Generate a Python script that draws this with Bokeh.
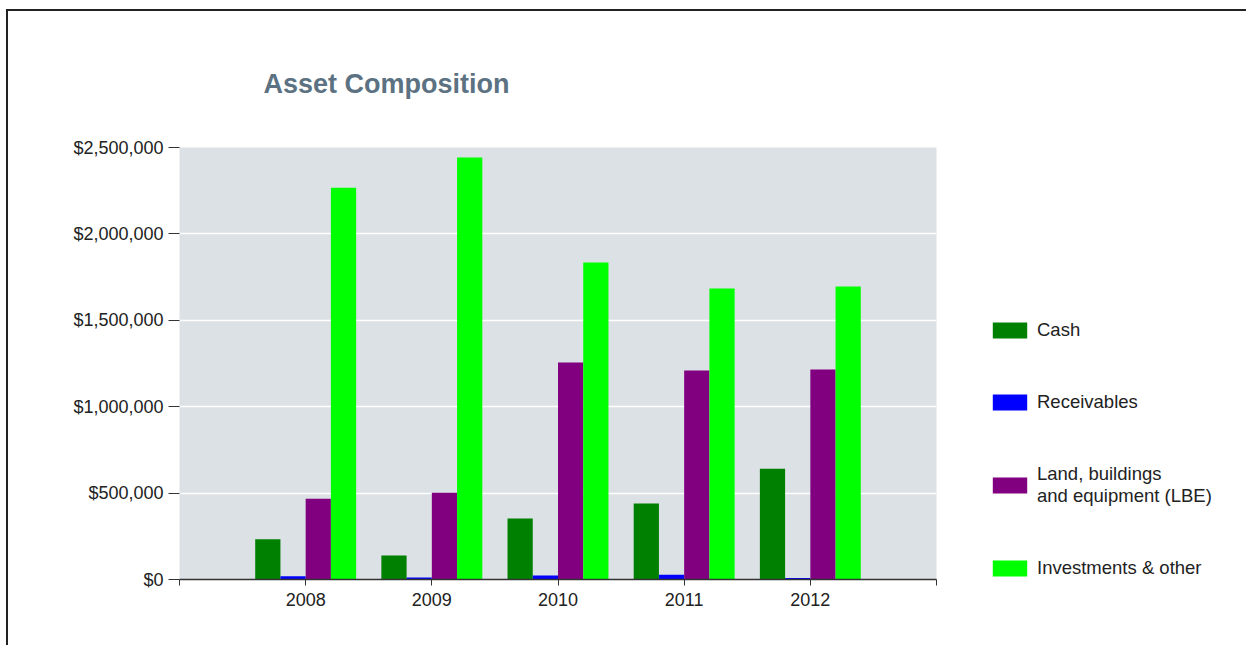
from bokeh.plotting import figure
from bokeh.models import Range1d, FixedTicker, NumeralTickFormatter, Legend, LegendItem, ColumnDataSource
from bokeh.transform import dodge
from bokeh.layouts import column
from bokeh.embed import file_html
from bokeh.resources import INLINE

years = ["2008", "2009", "2010", "2011", "2012"]
cash = [233000, 139000, 353000, 440000, 641000]
receivables = [19000, 12000, 23000, 27000, 8000]
lbe = [467000, 502000, 1256000, 1209000, 1215000]
investments = [2267000, 2442000, 1834000, 1684000, 1696000]
series_names = ["Cash", "Receivables", "Land, buildings\nand equipment (LBE)", "Investments & other"]
series_colors = ["#008000", "#0000ff", "#800080", "#00ff00"]

FONT = "Liberation Sans"
xpos = list(range(1, len(years) + 1))

p = figure(frame_width=757, frame_height=432, x_range=Range1d(0, len(years) + 1), y_range=Range1d(0, 2500000),
           output_backend="svg", toolbar_location=None,
           min_border_left=171, min_border_right=10, min_border_top=136, min_border_bottom=66)
p.background_fill_color = "#dbe1e4"
p.border_fill_color = "white"
p.outline_line_color = None

src = ColumnDataSource(dict(x=xpos, cash=cash, rec=receivables, lbe=lbe, inv=investments))
offsets = [-0.3, -0.1, 0.1, 0.3]
renderers = []
for col, off, c in zip(["cash", "rec", "lbe", "inv"], offsets, series_colors):
    r = p.vbar(x=dodge("x", off, range=p.x_range), top=col, width=0.2, bottom=0, source=src,
               fill_color=c, line_color=None)
    renderers.append(r)

# axes
p.xaxis.ticker = FixedTicker(ticks=list(range(0, len(years) + 2)))
overrides = {0: "", len(years) + 1: ""}
for i, y in zip(xpos, years):
    overrides[i] = y
p.xaxis.major_label_overrides = overrides
p.xaxis.minor_tick_line_color = None
p.xaxis.major_tick_in = 0
p.xaxis.major_tick_out = 6
p.xaxis.axis_line_color = "#333333"
p.xaxis.axis_line_width = 1.5
p.xaxis.major_tick_line_color = "#333333"
p.xaxis.major_label_text_font = FONT
p.xaxis.major_label_text_font_size = "18px"
p.xaxis.major_label_text_color = "#222222"
p.xaxis.major_label_standoff = 7

p.yaxis.ticker = FixedTicker(ticks=[0, 500000, 1000000, 1500000, 2000000, 2500000])
p.yaxis.formatter = NumeralTickFormatter(format="$0,0")
p.yaxis.minor_tick_line_color = None
p.yaxis.major_tick_in = 0
p.yaxis.major_tick_out = 11
p.yaxis.axis_line_color = None
p.yaxis.major_tick_line_color = "#333333"
p.yaxis.major_label_text_font = FONT
p.yaxis.major_label_text_font_size = "18px"
p.yaxis.major_label_text_color = "#222222"
p.yaxis.major_label_standoff = 5

p.xgrid.grid_line_color = None
p.ygrid.grid_line_color = "white"
p.ygrid.grid_line_width = 1.5

p.title.text = "Asset Composition"
p.title.text_font = FONT
p.title.text_font_size = "27px"
p.title.text_font_style = "bold"
p.title.text_color = "#5c7282"
p.title.align = "left"
p.title.offset = 84
p.title.standoff = 98

legend = Legend(items=[LegendItem(label=n, renderers=[r]) for n, r in zip(series_names, renderers)],
                location=(52, 0), glyph_width=43, glyph_height=20, label_standoff=6,
                label_text_font=FONT, label_text_font_size="18.5px", label_text_color="#222222",
                spacing=50, padding=15, margin=0, border_line_color=None,
                background_fill_color="white", background_fill_alpha=1.0)
p.add_layout(legend, "right")

lay = column(p, margin=(9, 0, 0, 6), styles={"border-top": "2px solid #222222", "border-left": "2px solid #222222"})

open("out.html", "w").write(file_html(lay, INLINE))
